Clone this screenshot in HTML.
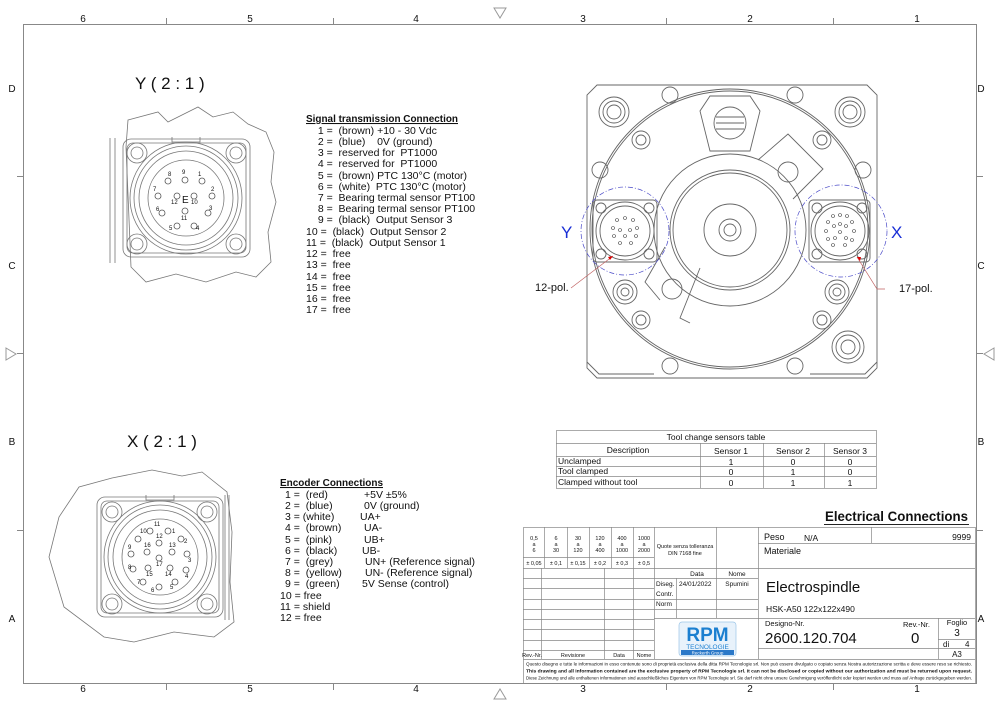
<!DOCTYPE html>
<html><head><meta charset="utf-8"><style>
html,body{margin:0;padding:0;background:#fff}
svg{display:block}
text{font-family:"Liberation Sans",Arial,sans-serif;fill:#111}
.t{font-size:10.5px}
.s{font-size:8px}
.p{font-size:6px;fill:#444}
</style></head><body>
<svg width="1000" height="707" viewBox="0 0 1000 707" xmlns="http://www.w3.org/2000/svg">
<g fill="none" stroke="#888" stroke-width="1">
<rect x="23.5" y="24.5" width="953" height="659"/>
<path d="M166.5 18v6M333.5 18v6M666.5 18v6M833.5 18v6M166.5 684v6M333.5 684v6M666.5 684v6M833.5 684v6M17 176.5h6M17 353.5h6M17 530.5h6M977 176.5h6M977 353.5h6M977 530.5h6"/>
<path d="M494 8l6 10 6-10zM494 699l6-10 6 10zM6 348l10 6-10 6zM994 348l-10 6 10 6z" stroke="#999"/>
</g>
<g font-size="10" text-anchor="middle">
<text x="83" y="22">6</text><text x="250" y="22">5</text><text x="416" y="22">4</text><text x="583" y="22">3</text><text x="750" y="22">2</text><text x="917" y="22">1</text>
<text x="83" y="692">6</text><text x="250" y="692">5</text><text x="416" y="692">4</text><text x="583" y="692">3</text><text x="750" y="692">2</text><text x="917" y="692">1</text>
<text x="12" y="92">D</text><text x="12" y="269">C</text><text x="12" y="445">B</text><text x="12" y="622">A</text>
<text x="981" y="92">D</text><text x="981" y="269">C</text><text x="981" y="445">B</text><text x="981" y="622">A</text>
</g>

<!-- Y view -->
<text x="135" y="89" font-size="17">Y ( 2 : 1 )</text>
<g fill="none" stroke="#777" stroke-width="0.8">
<path d="M128 120l30-8 10 10 30-15 15 10 20-5 15 12 18 8 8 20 -3 30 5 20 -8 30 3 30 -15 15 -20 -5 -30 10 -30 -8 -30 8 -15-15 -5-120z"/>
<path d="M110 138v125M115 138v125"/>
<rect x="123" y="139" width="127" height="118" rx="8"/>
<rect x="127" y="143" width="119" height="110" rx="6"/>
<circle cx="137" cy="153" r="10"/><circle cx="137" cy="153" r="6"/>
<circle cx="236" cy="153" r="10"/><circle cx="236" cy="153" r="6"/>
<circle cx="137" cy="244" r="10"/><circle cx="137" cy="244" r="6"/>
<circle cx="236" cy="244" r="10"/><circle cx="236" cy="244" r="6"/>
<circle cx="186" cy="198" r="56"/><circle cx="186" cy="198" r="52"/><circle cx="186" cy="198" r="47"/><circle cx="186" cy="198" r="38"/>
<path d="M172 137v5h28v-5"/>
<g stroke="#555"><circle cx="168" cy="181" r="3"/><circle cx="185" cy="180" r="3"/><circle cx="202" cy="181" r="3"/><circle cx="158" cy="196" r="3"/><circle cx="212" cy="196" r="3"/><circle cx="177" cy="196" r="3"/><circle cx="194" cy="196" r="3"/><circle cx="162" cy="213" r="3"/><circle cx="208" cy="213" r="3"/><circle cx="185" cy="211" r="3"/><circle cx="177" cy="226" r="3"/><circle cx="194" cy="226" r="3"/></g>
</g>
<g class="p"><text x="168" y="176">8</text><text x="182" y="174">9</text><text x="198" y="176">1</text><text x="153" y="191">7</text><text x="211" y="191">2</text><text x="171" y="204">12</text><text x="191" y="204">10</text><text x="156" y="211">6</text><text x="209" y="210">3</text><text x="181" y="220">11</text><text x="169" y="230">5</text><text x="196" y="230">4</text></g>
<text x="182" y="203" font-size="10" fill="#555">E</text>

<!-- X view -->
<text x="127" y="447" font-size="17">X ( 2 : 1 )</text>
<g fill="none" stroke="#777" stroke-width="0.8">
<path d="M112 478l40-8 30 6 20-4 25 20 5 40 -2 50 4 40 -20 15 -40-5 -40 10 -30-5 -40-30 -15-50 10-40 20-30z"/>
<path d="M225 495v125M229 495v125"/>
<rect x="97" y="497" width="126" height="120" rx="8"/>
<rect x="101" y="501" width="118" height="112" rx="6"/>
<circle cx="112" cy="512" r="10"/><circle cx="112" cy="512" r="6"/>
<circle cx="207" cy="512" r="10"/><circle cx="207" cy="512" r="6"/>
<circle cx="112" cy="604" r="10"/><circle cx="112" cy="604" r="6"/>
<circle cx="207" cy="604" r="10"/><circle cx="207" cy="604" r="6"/>
<circle cx="160" cy="557" r="56"/><circle cx="160" cy="557" r="52"/><circle cx="160" cy="557" r="47"/><circle cx="160" cy="557" r="38"/>
<path d="M146 495v5h28v-5"/>
<g stroke="#555"><circle cx="150" cy="531" r="3"/><circle cx="168" cy="531" r="3"/><circle cx="138" cy="539" r="3"/><circle cx="181" cy="539" r="3"/><circle cx="159" cy="543" r="3"/><circle cx="147" cy="552" r="3"/><circle cx="172" cy="552" r="3"/><circle cx="131" cy="554" r="3"/><circle cx="187" cy="554" r="3"/><circle cx="159" cy="558" r="3"/><circle cx="133" cy="569" r="3"/><circle cx="148" cy="568" r="3"/><circle cx="170" cy="568" r="3"/><circle cx="186" cy="570" r="3"/><circle cx="143" cy="582" r="3"/><circle cx="175" cy="582" r="3"/><circle cx="159" cy="587" r="3"/></g>
</g>
<g class="p"><text x="140" y="533">10</text><text x="154" y="526">11</text><text x="172" y="533">1</text><text x="184" y="543">2</text><text x="156" y="538">12</text><text x="144" y="547">16</text><text x="169" y="547">13</text><text x="128" y="549">9</text><text x="188" y="562">3</text><text x="156" y="566">17</text><text x="128" y="569">8</text><text x="146" y="576">15</text><text x="165" y="576">14</text><text x="185" y="578">4</text><text x="137" y="584">7</text><text x="170" y="589">5</text><text x="151" y="592">6</text></g>

<!-- Signal list -->
<text x="306" y="122" font-size="10.5" font-weight="bold" text-decoration="underline" textLength="152" lengthAdjust="spacingAndGlyphs">Signal transmission Connection</text>
<g class="t">
<text x="312" y="134" xml:space="preserve">  1 =  (brown) +10 - 30 Vdc</text>
<text x="312" y="145" xml:space="preserve">  2 =  (blue)    0V (ground)</text>
<text x="312" y="156" xml:space="preserve">  3 =  reserved for  PT1000</text>
<text x="312" y="167" xml:space="preserve">  4 =  reserved for  PT1000</text>
<text x="312" y="179" xml:space="preserve">  5 =  (brown) PTC 130°C (motor)</text>
<text x="312" y="190" xml:space="preserve">  6 =  (white)  PTC 130°C (motor)</text>
<text x="312" y="201" xml:space="preserve">  7 =  Bearing termal sensor PT100</text>
<text x="312" y="212" xml:space="preserve">  8 =  Bearing termal sensor PT100</text>
<text x="312" y="223" xml:space="preserve">  9 =  (black)  Output Sensor 3</text>
<text x="306" y="235" xml:space="preserve">10 =  (black)  Output Sensor 2</text>
<text x="306" y="246" xml:space="preserve">11 =  (black)  Output Sensor 1</text>
<text x="306" y="257" xml:space="preserve">12 =  free</text>
<text x="306" y="268" xml:space="preserve">13 =  free</text>
<text x="306" y="280" xml:space="preserve">14 =  free</text>
<text x="306" y="291" xml:space="preserve">15 =  free</text>
<text x="306" y="302" xml:space="preserve">16 =  free</text>
<text x="306" y="313" xml:space="preserve">17 =  free</text>
</g>

<!-- Encoder list -->
<text x="280" y="486" font-size="10.5" font-weight="bold" text-decoration="underline" textLength="103" lengthAdjust="spacingAndGlyphs">Encoder Connections</text>
<g class="t">
<text x="285" y="498" xml:space="preserve">1 =  (red)</text><text x="364" y="498">+5V ±5%</text>
<text x="285" y="509" xml:space="preserve">2 =  (blue)</text><text x="364" y="509">0V (ground)</text>
<text x="285" y="520" xml:space="preserve">3 = (white)</text><text x="360" y="520">UA+</text>
<text x="285" y="531" xml:space="preserve">4 =  (brown)</text><text x="364" y="531">UA-</text>
<text x="285" y="543" xml:space="preserve">5 =  (pink)</text><text x="364" y="543">UB+</text>
<text x="285" y="554" xml:space="preserve">6 =  (black)</text><text x="362" y="554">UB-</text>
<text x="285" y="565" xml:space="preserve">7 =  (grey)</text><text x="365" y="565">UN+ (Reference signal)</text>
<text x="285" y="576" xml:space="preserve">8 =  (yellow)</text><text x="365" y="576">UN- (Reference signal)</text>
<text x="285" y="587" xml:space="preserve">9 =  (green)</text><text x="362" y="587">5V Sense (control)</text>
<text x="280" y="599">10 =  free</text>
<text x="280" y="610">11 =  shield</text>
<text x="280" y="621">12 =  free</text>
</g>

<!-- Main front view -->
<g fill="none" stroke="#666" stroke-width="0.9">
<path d="M597 85h270l10 10v273l-10 10h-270l-10-10v-273z"/>
<path d="M587 362l12 12h55M877 362l-12 12h-55"/>
<circle cx="730" cy="229" r="140"/>
<circle cx="730" cy="229" r="138"/>
<circle cx="614" cy="112" r="15"/><circle cx="614" cy="112" r="11"/><circle cx="614" cy="112" r="7"/>
<circle cx="850" cy="112" r="15"/><circle cx="850" cy="112" r="11"/><circle cx="850" cy="112" r="7"/>
<circle cx="848" cy="347" r="16"/><circle cx="848" cy="347" r="12"/><circle cx="848" cy="347" r="7"/>
<circle cx="625" cy="292" r="12"/><circle cx="625" cy="292" r="8"/><circle cx="625" cy="292" r="4"/>
<circle cx="837" cy="292" r="12"/><circle cx="837" cy="292" r="8"/><circle cx="837" cy="292" r="4"/>
<circle cx="641" cy="140" r="9"/><circle cx="641" cy="140" r="5"/>
<circle cx="822" cy="140" r="9"/><circle cx="822" cy="140" r="5"/>
<circle cx="641" cy="320" r="9"/><circle cx="641" cy="320" r="5"/>
<circle cx="822" cy="320" r="9"/><circle cx="822" cy="320" r="5"/>
<circle cx="670" cy="95" r="8"/><circle cx="795" cy="95" r="8"/><circle cx="670" cy="366" r="8"/><circle cx="795" cy="366" r="8"/>
<circle cx="600" cy="170" r="8"/><circle cx="863" cy="170" r="8"/>
<path d="M710 96h40l10 15-10 40h-40l-10-40z"/>
<circle cx="730" cy="123" r="16"/><path d="M716 117h28M716 123h28M716 129h28"/>
<circle cx="730" cy="230" r="76"/>
<circle cx="730" cy="230" r="60"/><circle cx="730" cy="230" r="57"/>
<circle cx="730" cy="230" r="26"/><circle cx="730" cy="230" r="11"/><circle cx="730" cy="230" r="6"/>
<path d="M758 160l30-26 35 35-30 30"/>
<circle cx="788" cy="172" r="10"/>
<path d="M660 300l-15-18 20-35"/><circle cx="672" cy="289" r="10"/>
<path d="M700 268l-20 50 10 5"/>
<rect x="593" y="200" width="64" height="62" rx="4"/>
<circle cx="601" cy="208" r="5"/><circle cx="649" cy="208" r="5"/><circle cx="601" cy="254" r="5"/><circle cx="649" cy="254" r="5"/>
<circle cx="625" cy="231" r="29"/><circle cx="625" cy="231" r="25"/>
<rect x="809" y="200" width="61" height="62" rx="4"/>
<circle cx="817" cy="208" r="5"/><circle cx="862" cy="208" r="5"/><circle cx="817" cy="254" r="5"/><circle cx="862" cy="254" r="5"/>
<circle cx="840" cy="231" r="29"/><circle cx="840" cy="231" r="25"/>
<g stroke="#444" stroke-width="0.6">
<circle cx="617" cy="220" r="1.5"/><circle cx="625" cy="218" r="1.5"/><circle cx="633" cy="220" r="1.5"/><circle cx="613" cy="228" r="1.5"/><circle cx="637" cy="228" r="1.5"/><circle cx="620" cy="230" r="1.5"/><circle cx="630" cy="230" r="1.5"/><circle cx="614" cy="236" r="1.5"/><circle cx="636" cy="236" r="1.5"/><circle cx="625" cy="236" r="1.5"/><circle cx="620" cy="243" r="1.5"/><circle cx="631" cy="243" r="1.5"/>
<circle cx="833" cy="216" r="1.5"/><circle cx="840" cy="215" r="1.5"/><circle cx="847" cy="216" r="1.5"/><circle cx="828" cy="222" r="1.5"/><circle cx="852" cy="222" r="1.5"/><circle cx="834" cy="226" r="1.5"/><circle cx="840" cy="224" r="1.5"/><circle cx="846" cy="226" r="1.5"/><circle cx="826" cy="231" r="1.5"/><circle cx="854" cy="231" r="1.5"/><circle cx="840" cy="232" r="1.5"/><circle cx="828" cy="239" r="1.5"/><circle cx="835" cy="238" r="1.5"/><circle cx="846" cy="238" r="1.5"/><circle cx="852" cy="240" r="1.5"/><circle cx="833" cy="245" r="1.5"/><circle cx="845" cy="245" r="1.5"/>
</g>
</g>
<g fill="none" stroke="#4a4ac8" stroke-width="0.7" stroke-dasharray="5 2 1 2">
<circle cx="625" cy="231" r="44"/>
<circle cx="841" cy="231" r="46"/>
</g>
<text x="561" y="238" font-size="17" style="fill:#1a2fd6">Y</text>
<text x="891" y="238" font-size="17" style="fill:#1a2fd6">X</text>
<g stroke="#c06060" stroke-width="0.7" fill="none">
<path d="M571 288l42-32"/><path d="M885 289h-8l-20-32"/>
</g>
<path d="M613 256l-5 1 2 3z M857 257l3 4 1-4z" fill="#d00"/>
<text x="535" y="291" font-size="11">12-pol.</text>
<text x="899" y="292" font-size="11">17-pol.</text>

<!-- Sensor table -->
<g fill="none" stroke="#888" stroke-width="0.7">
<rect x="556.5" y="430.5" width="320" height="58"/>
<path d="M556 443.5h320M556 456.5h320M556 466.5h320M556 476.5h320M700.5 443v45M763.5 443v45M824.5 443v45"/>
</g>
<g font-size="8.5">
<text x="716" y="440" text-anchor="middle">Tool change sensors table</text>
<text x="628" y="453" text-anchor="middle">Description</text><text x="731" y="454" text-anchor="middle">Sensor 1</text><text x="793" y="454" text-anchor="middle">Sensor 2</text><text x="850" y="454" text-anchor="middle">Sensor 3</text>
<text x="558" y="464">Unclamped</text><text x="731" y="465" text-anchor="middle">1</text><text x="793" y="465" text-anchor="middle">0</text><text x="850" y="465" text-anchor="middle">0</text>
<text x="558" y="474">Tool clamped</text><text x="731" y="475" text-anchor="middle">0</text><text x="793" y="475" text-anchor="middle">1</text><text x="850" y="475" text-anchor="middle">0</text>
<text x="558" y="485">Clamped without tool</text><text x="731" y="486" text-anchor="middle">0</text><text x="793" y="486" text-anchor="middle">1</text><text x="850" y="486" text-anchor="middle">1</text>
</g>

<!-- Title block -->
<text x="825" y="521" font-size="14" font-weight="bold" textLength="143" lengthAdjust="spacingAndGlyphs">Electrical Connections</text>
<path d="M824 524.5h145" stroke="#222" stroke-width="1"/>
<g fill="none" stroke="#888" stroke-width="0.7">
<rect x="523.5" y="527.5" width="452" height="156"/>
<path d="M544.5 527v41M567.5 527v41M589.5 527v41M611.5 527v41M633.5 527v41M654.5 527v132M716.5 527v91M758.5 527v132"/>
<path d="M523 557.5h131M523 568.5h452M523 578.5h235M523 588.5h131M523 599.5h235M523 609.5h235M523 619.5h131M523 629.5h131M523 640.5h131M523 650.5h131M523 659.5h452"/>
<path d="M541.5 568v91M604.5 568v91M633.5 568v91M676.5 578v40M654 618.5h321"/>
<path d="M758 543.5h217M871.5 527v16M938.5 618v41M938 639.5h37M758 648.5h217"/>
</g>
<g font-size="5.5" text-anchor="middle">
<text x="534" y="540">0,5</text><text x="534" y="546">a</text><text x="534" y="552">6</text>
<text x="556" y="540">6</text><text x="556" y="546">a</text><text x="556" y="552">30</text>
<text x="578" y="540">30</text><text x="578" y="546">a</text><text x="578" y="552">120</text>
<text x="600" y="540">120</text><text x="600" y="546">a</text><text x="600" y="552">400</text>
<text x="622" y="540">400</text><text x="622" y="546">a</text><text x="622" y="552">1000</text>
<text x="644" y="540">1000</text><text x="644" y="546">a</text><text x="644" y="552">2000</text>
<text x="534" y="565">± 0,05</text><text x="556" y="565">± 0,1</text><text x="578" y="565">± 0,15</text><text x="600" y="565">± 0,2</text><text x="622" y="565">± 0,3</text><text x="644" y="565">± 0,5</text>
<text x="685" y="548">Quote senza tolleranza</text><text x="685" y="555">DIN 7168 fine</text>
<text x="532" y="657">Rev.-Nr.</text><text x="573" y="657">Revisione</text><text x="619" y="657">Data</text><text x="644" y="657">Nome</text>
</g>
<g font-size="6.5">
<text x="697" y="576" text-anchor="middle">Data</text><text x="737" y="576" text-anchor="middle">Nome</text>
<text x="656" y="586">Diseg.</text><text x="679" y="586">24/01/2022</text><text x="737" y="586" text-anchor="middle">Spumini</text>
<text x="656" y="596">Contr.</text><text x="656" y="606">Norm</text>
</g>
<rect x="679" y="622" width="57" height="34" rx="3" fill="#e8f2fb" stroke="#9cc6e8" stroke-width="0.7"/>
<text x="707.5" y="641" font-size="19" font-weight="bold" text-anchor="middle" style="fill:#1b7fd0">RPM</text>
<text x="707.5" y="649" font-size="6.5" text-anchor="middle" style="fill:#1b7fd0">TECNOLOGIE</text>
<rect x="681" y="650" width="53" height="5" fill="#2a78c8"/>
<text x="707.5" y="654.3" font-size="4.5" text-anchor="middle" style="fill:#fff">Reckerth Group</text>

<text x="764" y="540" font-size="9">Peso</text><text x="804" y="541" font-size="8.5">N/A</text>
<text x="971" y="540" font-size="8.5" text-anchor="end">9999</text>
<text x="764" y="554" font-size="9">Materiale</text>
<text x="766" y="592" font-size="15">Electrospindle</text>
<text x="766" y="612" font-size="8.5">HSK-A50 122x122x490</text>
<text x="765" y="626" font-size="7.5">Designo-Nr.</text>
<text x="765" y="643" font-size="15">2600.120.704</text>
<text x="903" y="627" font-size="7.5">Rev.-Nr.</text>
<text x="911" y="643" font-size="15">0</text>
<text x="957" y="625" font-size="7.5" text-anchor="middle">Foglio</text>
<text x="957" y="636" font-size="10" text-anchor="middle">3</text>
<text x="943" y="647" font-size="8">di</text><text x="965" y="647" font-size="8">4</text>
<text x="957" y="657" font-size="8" text-anchor="middle">A3</text>
<g font-size="4.9">
<text x="526" y="665.5" textLength="446" lengthAdjust="spacingAndGlyphs">Questo disegno e tutte le informazioni in esso contenute sono di proprietà esclusiva della ditta RPM Tecnologie srl. Non può essere divulgato o copiato senza Nostra autorizzazione scritta e deve essere reso se richiesto.</text>
<text x="526" y="672.5" font-weight="bold" textLength="446" lengthAdjust="spacingAndGlyphs">This drawing and all information contained are the exclusive property of RPM Tecnologie srl. It can not be disclosed or copied without our authorization and must be returned upon request.</text>
<text x="526" y="679.5" textLength="446" lengthAdjust="spacingAndGlyphs">Diese Zeichnung und alle enthaltenen Informationen sind ausschließliches Eigentum von RPM Tecnologie srl. Sie darf nicht ohne unsere Genehmigung veröffentlicht oder kopiert werden und muss auf Anfrage zurückgegeben werden.</text>
</g>
</svg>
</body></html>
